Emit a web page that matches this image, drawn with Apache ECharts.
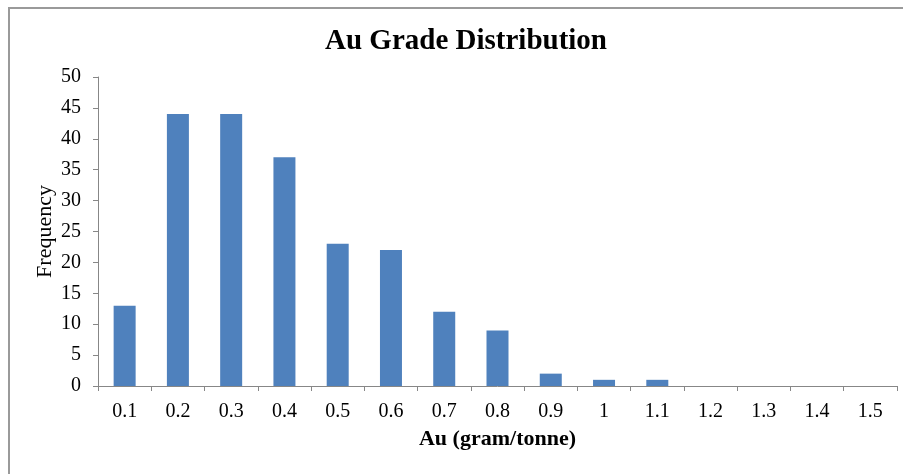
<!DOCTYPE html>
<html>
<head>
<meta charset="utf-8">
<script src="https://cdn.jsdelivr.net/npm/echarts@6/dist/echarts.min.js"></script>
<style>
  html, body { margin: 0; padding: 0; background: #fff; }
  #frame { position: absolute; left: 8px; top: 7px; width: 900px; height: 465px;
           border-left: 2px solid #9a9a9a; border-top: 2px solid #9a9a9a; border-bottom: 1px solid #d0d0d0; }
  #chart { position: absolute; left: 0; top: 0; width: 903px; height: 474px; }
</style>
</head>
<body>
<div id="frame"></div>
<div id="chart"></div>
<script>
const categories = ['0.1','0.2','0.3','0.4','0.5','0.6','0.7','0.8','0.9','1','1.1','1.2','1.3','1.4','1.5'];
const frequency = [13, 44, 44, 37, 23, 22, 12, 9, 2, 1, 1, 0, 0, 0, 0];

const serif = '"Liberation Serif", "Times New Roman", serif';
const chart = echarts.init(document.getElementById('chart'), null, { renderer: 'canvas' });
chart.setOption({
  backgroundColor: 'transparent',
  animation: false,
  title: {
    text: 'Au Grade Distribution',
    left: 461, top: 22, textAlign: 'center',
    textStyle: { fontFamily: serif, fontSize: 29, fontWeight: 'bold', color: '#000' }
  },
  grid: { left: 98, right: 6, top: 77, bottom: 88, containLabel: false },
  xAxis: {
    type: 'category',
    data: categories,
    name: 'Au (gram/tonne)',
    nameLocation: 'middle',
    nameGap: 42,
    nameMoveOverlap: false,
    nameTextStyle: { fontFamily: serif, fontSize: 22, fontWeight: 'bold', color: '#000' },
    axisLine: { lineStyle: { color: '#878787', width: 1 } },
    axisTick: { show: true, length: 5, lineStyle: { color: '#878787' } },
    axisLabel: { fontFamily: serif, fontSize: 20, color: '#000', margin: 16 },
    splitLine: { show: false }
  },
  yAxis: {
    type: 'value',
    min: 0, max: 50, interval: 5,
    name: 'Frequency',
    nameLocation: 'middle',
    nameGap: 42,
    nameMoveOverlap: false,
    nameTextStyle: { fontFamily: serif, fontSize: 22, color: '#000' },
    axisLine: { show: true, lineStyle: { color: '#878787', width: 1 } },
    axisTick: { show: true, length: 5, lineStyle: { color: '#878787' } },
    axisLabel: { fontFamily: serif, fontSize: 20, color: '#000', margin: 17 },
    splitLine: { show: false }
  },
  series: [{
    type: 'bar',
    data: frequency,
    barWidth: 22,
    itemStyle: { color: '#4F81BD' }
  }]
});
</script>
</body>
</html>
